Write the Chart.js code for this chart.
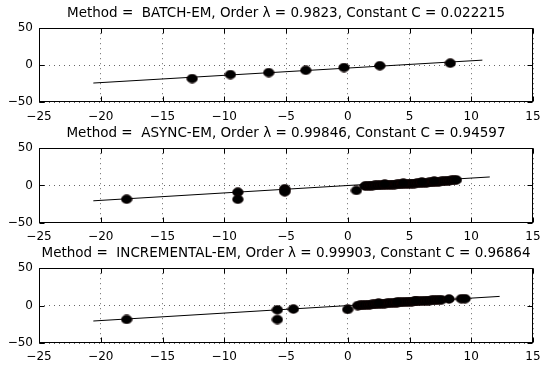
<!DOCTYPE html>
<html><head><meta charset="utf-8">
<script src="https://cdn.jsdelivr.net/npm/chart.js@4"></script>
<style>
html,body{margin:0;padding:0;background:#fff;}
#wrap{position:relative;width:540px;height:367px;overflow:hidden;background:#fff;}
canvas{position:absolute;left:0;}
</style></head><body>
<div id="wrap">
<canvas id="c1" width="540" height="120" style="top:0px"></canvas>
<canvas id="c2" width="540" height="120" style="top:120px"></canvas>
<canvas id="c3" width="540" height="127" style="top:240px"></canvas>
</div>
<script>
// ---- tick labels ----
const xTickVals = [-25, -20, -15, -10, -5, 0, 5, 10, 15];
const yTickVals = [-50, 0, 50];

// ---- titles ----
const titleBatch = "Method =  BATCH-EM, Order \u03bb = 0.9823, Constant C = 0.022215";
const titleAsync = "Method =  ASYNC-EM, Order \u03bb = 0.99846, Constant C = 0.94597";
const titleIncr  = "Method =  INCREMENTAL-EM, Order \u03bb = 0.99903, Constant C = 0.96864";

// ---- BATCH-EM ----
const batchX = [-12.6, -9.5, -6.4, -3.4, -0.3, 2.6, 8.3];
const batchY = [-18.0, -12.6, -9.9, -6.8, -3.1, -0.6, 2.8];
const batchFitX = [-20.6, 10.9];
const batchFitY = [-24.0, 6.9];

// ---- ASYNC-EM ----
const asyncX = [-17.9, -8.9, -8.9, -5.1, -5.1, -5.1, 0.7,
  1.4, 1.6, 1.8, 2.0, 2.2, 2.4, 2.6, 2.8, 3.0, 3.2, 3.4, 3.6, 3.8, 4.0, 4.2, 4.4, 4.6, 4.8, 5.0,
  5.2, 5.4, 5.6, 5.8, 6.0, 6.2, 6.4, 6.6, 6.8, 7.0, 7.2, 7.4, 7.6, 7.8, 8.0, 8.2, 8.4, 8.6, 8.8,
  3.0, 4.5, 6.0, 7.0];
const asyncY = [-18.5, -9.0, -18.6, -4.4, -6.5, -8.6, -6.7,
  -0.8, -0.4, -0.5, -0.1, 0.0, 0.1, 0.4, 0.3, 0.7, 0.8, 0.8, 1.2, 1.2, 1.5, 1.6, 1.7, 2.0, 2.0, 2.3,
  2.6, 2.6, 3.0, 3.1, 3.3, 3.6, 3.7, 4.1, 4.2, 4.6, 4.8, 5.1, 5.4, 5.7, 6.1, 6.4, 6.8, 7.1, 7.4,
  1.8, 3.0, 4.5, 5.8];
const asyncFitX = [-20.6, 11.5];
const asyncFitY = [-20.6, 11.4];

// ---- INCREMENTAL-EM ----
const incrX = [-17.9, -5.7, -5.7, -4.4, 0.0,
  0.8, 1.0, 1.2, 1.4, 1.6, 1.8, 2.0, 2.2, 2.4, 2.6, 2.8, 3.0, 3.2, 3.4, 3.6, 3.8, 4.0, 4.2,
  4.4, 4.6, 4.8, 5.0, 5.2, 5.4, 5.6, 5.8, 6.0, 6.2, 6.4, 6.6, 6.8, 7.0, 7.2, 7.4, 7.6,
  8.2, 9.2, 9.5, 2.5, 4.0, 5.5];
const incrY = [-18.5, -5.6, -18.6, -4.6, -5.2,
  0.0, 0.3, 0.5, 0.8, 1.0, 1.3, 1.5, 1.8, 2.1, 2.3, 2.6, 2.8, 3.1, 3.3, 3.6, 3.8, 4.1, 4.3,
  4.5, 4.8, 5.1, 5.2, 5.4, 5.6, 5.8, 6.0, 6.2, 6.4, 6.6, 6.8, 7.0, 7.2, 7.4, 7.6, 7.8,
  8.9, 9.1, 9.2, 3.3, 4.9, 6.4];
const incrFitX = [-20.6, 12.3];
const incrFitY = [-20.6, 12.3];

const FONT = "'DejaVu Sans', 'Liberation Sans', sans-serif";
const fmt = v => (v < 0 ? '\u2212' + Math.abs(v) : String(v));

function makeMarker() {
  const c = document.createElement('canvas');
  c.width = 12; c.height = 10;
  const g = c.getContext('2d');
  g.beginPath();
  g.ellipse(6, 5, 5.4, 4.4, 0, 0, Math.PI * 2);
  g.fillStyle = '#000';
  g.fill();
  g.lineWidth = 0.5;
  g.strokeStyle = '#1a0000';
  g.stroke();
  return c;
}
const marker = makeMarker();

const framePlugin = {
  id: 'frame',
  afterDraw(chart) {
    const ctx = chart.ctx;
    const a = chart.chartArea;
    const L = Math.round(a.left) + 0.5, T = Math.round(a.top) + 0.5;
    const R = Math.round(a.right) - 0.5, B = Math.round(a.bottom) - 0.5;
    ctx.save();
    ctx.strokeStyle = '#000';
    ctx.lineWidth = 1;
    ctx.setLineDash([]);
    ctx.strokeRect(L, T, R - L, B - T);
    const xs = chart.scales.x, ys = chart.scales.y;
    ctx.beginPath();
    xs.ticks.forEach(t => {
      const p = Math.round(xs.getPixelForValue(t.value)) + 0.5;
      ctx.moveTo(p, B); ctx.lineTo(p, B - 5);
      ctx.moveTo(p, T); ctx.lineTo(p, T + 5);
    });
    ys.ticks.forEach(t => {
      const p = Math.round(ys.getPixelForValue(t.value)) + 0.5;
      ctx.moveTo(L, p); ctx.lineTo(L + 5, p);
      ctx.moveTo(R, p); ctx.lineTo(R - 5, p);
    });
    ctx.stroke();
    ctx.restore();
  }
};

function zeroPad(s) { s.paddingLeft = 0; s.paddingRight = 0; s.paddingTop = 0; s.paddingBottom = 0; }

function makeChart(id, title, px, py, fx, fy, xAxisH) {
  const pts = px.map((x, i) => ({ x: x, y: py[i] }));
  const fit = fx.map((x, i) => ({ x: x, y: fy[i] }));
  new Chart(document.getElementById(id), {
    type: 'scatter',
    data: {
      datasets: [
        { data: pts, pointStyle: marker, pointRadius: 5, showLine: false },
        { data: fit, showLine: true, pointRadius: 0, borderColor: '#000', borderWidth: 1, fill: false }
      ]
    },
    options: {
      responsive: false,
      animation: false,
      events: [],
      devicePixelRatio: 1,
      layout: { padding: { left: 0, right: 7, top: 0, bottom: 0 } },
      plugins: {
        legend: { display: false },
        tooltip: { enabled: false },
        title: {
          display: true, text: title, fullSize: false, color: '#000',
          font: { family: FONT, size: 13.5, weight: 'normal' },
          padding: { top: 5, bottom: 7 }
        }
      },
      scales: {
        x: {
          type: 'linear', position: 'bottom', min: -25, max: 15,
          afterBuildTicks: s => { s.ticks = xTickVals.map(v => ({ value: v })); },
          afterFit: s => { s.height = xAxisH; zeroPad(s); },
          grid: { color: 'rgba(0,0,0,0.6)', lineWidth: 1, drawTicks: false },
          border: { display: false, dash: [1, 4] },
          ticks: { font: { family: FONT, size: 12 }, color: '#000', padding: 7, maxRotation: 0, autoSkip: false, callback: v => fmt(v) }
        },
        y: {
          type: 'linear', position: 'left', min: -50, max: 50,
          afterBuildTicks: s => { s.ticks = yTickVals.map(v => ({ value: v })); },
          afterFit: s => { s.width = 39; zeroPad(s); },
          grid: { color: 'rgba(0,0,0,0.6)', lineWidth: 1, drawTicks: false },
          border: { display: false, dash: [1, 4] },
          ticks: { font: { family: FONT, size: 12 }, color: '#000', padding: 6, autoSkip: false, callback: v => fmt(v) }
        }
      }
    },
    plugins: [framePlugin]
  });
}

makeChart('c1', titleBatch, batchX, batchY, batchFitX, batchFitY, 17.7);
makeChart('c2', titleAsync, asyncX, asyncY, asyncFitX, asyncFitY, 17.3);
makeChart('c3', titleIncr, incrX, incrY, incrFitX, incrFitY, 24);
</script>
</body></html>
